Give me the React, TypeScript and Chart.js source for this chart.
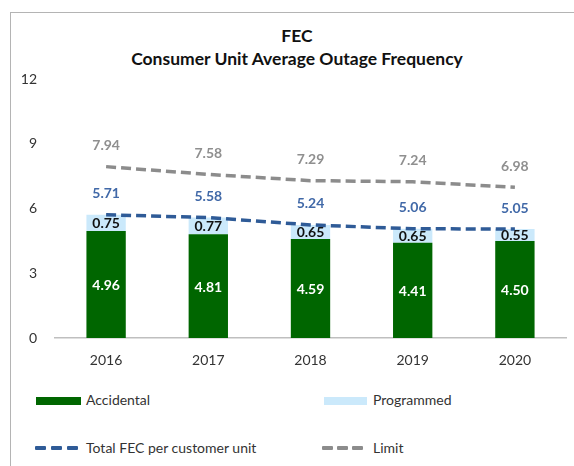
import React, { useEffect, useRef } from 'react';
import { Chart, registerables } from 'chart.js';

Chart.register(...registerables);

const years = ['2016', '2017', '2018', '2019', '2020'];
const accidental = [4.96, 4.81, 4.59, 4.41, 4.5];
const programmed = [0.75, 0.77, 0.65, 0.65, 0.55];
const totalFec = [5.71, 5.58, 5.24, 5.06, 5.05];
const limit = [7.94, 7.58, 7.29, 7.24, 6.98];
const yTicks = [0, 3, 6, 9, 12];

const FONT = 'Lato, "Noto Sans", sans-serif';
const GREEN = '#006600';
const LIGHT_BLUE = '#cbe9fb';
const BLUE_LINE = '#2f5b97';
const BLUE_TEXT = '#4169a8';
const GRAY_LINE = '#8c8c8c';
const GRAY_TEXT = '#8f8f8f';

const labelPlugin = {
  id: 'valueLabels',
  afterDatasetsDraw(chart: any) {
    const ctx = chart.ctx;
    ctx.save();
    ctx.textAlign = 'center';
    ctx.textBaseline = 'middle';
    ctx.font = `bold 14px ${FONT}`;
    chart.data.datasets.forEach((ds: any, di: number) => {
      const meta = chart.getDatasetMeta(di);
      meta.data.forEach((el: any, i: number) => {
        const v = ds.data[i] as number;
        const txt = v.toFixed(2);
        ctx.fillStyle = ds.labelColor;
        if (ds.type === 'line') {
          ctx.fillText(txt, el.x, el.y - 21);
        } else {
          ctx.fillText(txt, el.x, (el.y + el.base) / 2 + 1);
        }
      });
    });
    ctx.restore();
  },
};

export default function App() {
  const ref = useRef<HTMLCanvasElement>(null);

  useEffect(() => {
    if (!ref.current) return;
    const chart = new Chart(ref.current, {
      type: 'bar',
      data: {
        labels: years,
        datasets: [
          {
            type: 'bar',
            label: 'Accidental',
            data: accidental,
            backgroundColor: GREEN,
            stack: 'bars',
            barPercentage: 0.385,
            categoryPercentage: 1,
            order: 2,
            labelColor: '#ffffff',
          } as any,
          {
            type: 'bar',
            label: 'Programmed',
            data: programmed,
            backgroundColor: LIGHT_BLUE,
            stack: 'bars',
            barPercentage: 0.385,
            categoryPercentage: 1,
            order: 3,
            labelColor: '#111111',
          } as any,
          {
            type: 'line',
            label: 'Total FEC per customer unit',
            data: totalFec,
            stack: 'total',
            borderColor: BLUE_LINE,
            borderWidth: 3.5,
            borderDash: [10, 5],
            pointRadius: 0,
            fill: false,
            tension: 0,
            order: 0,
            labelColor: BLUE_TEXT,
          } as any,
          {
            type: 'line',
            label: 'Limit',
            data: limit,
            stack: 'limit',
            borderColor: GRAY_LINE,
            borderWidth: 3.5,
            borderDash: [10, 5],
            pointRadius: 0,
            fill: false,
            tension: 0,
            order: 1,
            labelColor: GRAY_TEXT,
          } as any,
        ],
      },
      options: {
        animation: false,
        responsive: false,
        maintainAspectRatio: false,
        layout: { padding: { left: 0, right: 8, top: 79, bottom: 8 } },
        plugins: {
          legend: { display: false },
          title: { display: false },
          tooltip: { enabled: false },
        },
        scales: {
          x: {
            stacked: true,
            grid: { display: false, drawTicks: false },
            border: { display: true, color: '#bfbfbf', width: 1.5 },
            ticks: { color: '#333333', font: { family: FONT, size: 14 }, padding: 14 },
            afterFit: (s: any) => {
              s.height = 34;
            },
          },
          y: {
            stacked: true,
            min: 0,
            max: 12,
            grid: { display: false, drawTicks: false },
            border: { display: false },
            afterBuildTicks: (s: any) => {
              s.ticks = yTicks.map((v) => ({ value: v }));
            },
            ticks: { color: '#333333', font: { family: FONT, size: 14 }, padding: 18 },
            afterFit: (s: any) => {
              s.width = 55;
            },
          },
        },
      },
      plugins: [labelPlugin],
    });
    return () => chart.destroy();
  }, []);

  const legendText: React.CSSProperties = {
    position: 'absolute',
    fontFamily: FONT,
    fontSize: 14,
    lineHeight: '16px',
    color: '#333333',
    whiteSpace: 'nowrap',
  };
  const dash = (left: number, top: number, color: string) => (
    <div
      style={{ position: 'absolute', left, top, width: 11, height: 3.5, background: color, borderRadius: 1 }}
    />
  );

  return (
    <div
      style={{
        position: 'fixed',
        left: 0,
        top: 0,
        width: 574,
        height: 466,
        background: '#ffffff',
        overflow: 'hidden',
      }}
    >
      <div
        style={{
          position: 'absolute',
          left: 10,
          top: 12,
          width: 700,
          height: 600,
          borderLeft: '1px solid #b4b4b4',
          borderTop: '1px solid #b4b4b4',
        }}
      />
      <div
        style={{
          position: 'absolute',
          left: 0,
          top: 24,
          width: 594,
          textAlign: 'center',
          fontFamily: FONT,
          fontWeight: 'bold',
          fontSize: 17.5,
          lineHeight: '23px',
          color: '#111111',
        }}
      >
        <div>FEC</div>
        <div>Consumer Unit Average Outage Frequency</div>
      </div>
      <canvas
        ref={ref}
        width={574}
        height={380}
        style={{ position: 'absolute', left: 0, top: 0, width: 574, height: 380 }}
      />
      <div style={{ position: 'absolute', left: 36, top: 397, width: 45, height: 8, background: GREEN }} />
      <div style={{ ...legendText, left: 86, top: 392 }}>Accidental</div>
      <div style={{ position: 'absolute', left: 324, top: 397, width: 43, height: 8, background: LIGHT_BLUE }} />
      <div style={{ ...legendText, left: 373, top: 392 }}>Programmed</div>
      {dash(35, 446, BLUE_LINE)}
      {dash(51, 446, BLUE_LINE)}
      {dash(67, 446, BLUE_LINE)}
      <div style={{ ...legendText, left: 86, top: 440 }}>Total FEC per customer unit</div>
      {dash(322, 446, GRAY_LINE)}
      {dash(337, 446, GRAY_LINE)}
      {dash(352, 446, GRAY_LINE)}
      <div style={{ ...legendText, left: 373, top: 440 }}>Limit</div>
    </div>
  );
}
